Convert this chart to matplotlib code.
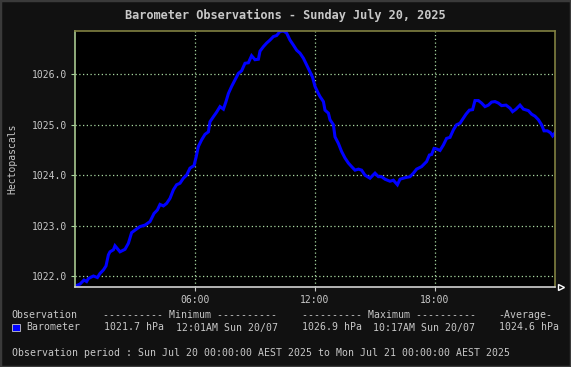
import matplotlib
matplotlib.use("Agg")
import matplotlib.pyplot as plt

# readings for Sun 20 Jul 2025, hours since midnight
hours = [0, 0.25, 0.45, 0.58, 0.67, 0.92, 1.12, 1.25, 1.42, 1.55, 1.67, 1.75, 1.92, 2.0,
         2.25, 2.5, 2.67, 2.83, 3.0, 3.25, 3.5, 3.75, 3.95, 4.12, 4.25, 4.42, 4.58, 4.75,
         4.92, 5.08, 5.25, 5.42, 5.58, 5.75, 5.95, 6.05, 6.17, 6.33, 6.5, 6.67, 6.75, 6.92,
         7.08, 7.25, 7.42, 7.55, 7.67, 7.83, 8.0, 8.17, 8.33, 8.5, 8.67, 8.83, 9.0, 9.17,
         9.25, 9.42, 9.58, 9.75, 9.92, 10.08, 10.25, 10.42, 10.58, 10.75, 10.92, 11.08,
         11.25, 11.42, 11.58, 11.75, 11.88, 12.0, 12.17, 12.25, 12.42, 12.5, 12.67, 12.75,
         12.92, 13.0, 13.17, 13.33, 13.5, 13.67, 13.83, 14.0, 14.17, 14.33, 14.5, 14.75,
         15.0, 15.17, 15.33, 15.5, 15.75, 15.92, 16.12, 16.25, 16.5, 16.75, 16.92, 17.08,
         17.33, 17.58, 17.72, 17.83, 17.95, 18.08, 18.25, 18.42, 18.58, 18.75, 18.92, 19.08,
         19.25, 19.42, 19.55, 19.72, 19.88, 20.0, 20.17, 20.33, 20.5, 20.67, 20.83, 21.0,
         21.17, 21.33, 21.55, 21.75, 21.88, 22.05, 22.25, 22.42, 22.67, 22.83, 23.0, 23.17,
         23.33, 23.45, 23.62, 23.78, 23.88, 24.0]
hpa = [1021.80, 1021.84, 1021.92, 1021.89, 1021.95, 1022.00, 1021.97, 1022.05, 1022.12,
       1022.20, 1022.42, 1022.48, 1022.52, 1022.60, 1022.48, 1022.53, 1022.65, 1022.86,
       1022.91, 1022.98, 1023.01, 1023.08, 1023.24, 1023.31, 1023.42, 1023.39, 1023.44,
       1023.54, 1023.71, 1023.81, 1023.84, 1023.94, 1024.00, 1024.14, 1024.19, 1024.35,
       1024.57, 1024.70, 1024.81, 1024.86, 1025.06, 1025.16, 1025.25, 1025.36, 1025.31,
       1025.46, 1025.62, 1025.76, 1025.89, 1026.02, 1026.07, 1026.22, 1026.23, 1026.37,
       1026.29, 1026.30, 1026.46, 1026.55, 1026.62, 1026.68, 1026.75, 1026.77, 1026.85,
       1026.86, 1026.82, 1026.68, 1026.58, 1026.48, 1026.42, 1026.32, 1026.19, 1026.05,
       1025.94, 1025.76, 1025.62, 1025.56, 1025.46, 1025.29, 1025.23, 1025.10, 1025.00,
       1024.76, 1024.63, 1024.47, 1024.34, 1024.24, 1024.17, 1024.10, 1024.12, 1024.10,
       1024.00, 1023.94, 1024.04, 1023.97, 1023.97, 1023.92, 1023.88, 1023.90, 1023.81,
       1023.92, 1023.95, 1023.97, 1024.04, 1024.12, 1024.17, 1024.27, 1024.40, 1024.41,
       1024.53, 1024.52, 1024.49, 1024.60, 1024.73, 1024.75, 1024.90, 1025.00, 1025.03,
       1025.13, 1025.21, 1025.29, 1025.30, 1025.48, 1025.48, 1025.43, 1025.36, 1025.39,
       1025.45, 1025.46, 1025.43, 1025.38, 1025.39, 1025.33, 1025.26, 1025.31, 1025.39,
       1025.31, 1025.28, 1025.21, 1025.17, 1025.10, 1025.00, 1024.88, 1024.88, 1024.84,
       1024.78, 1024.84]

xticks = [6, 12, 18]
xtick_labels = ["06:00", "12:00", "18:00"]
yticks = [1022.0, 1023.0, 1024.0, 1025.0, 1026.0]

title = "Barometer Observations - Sunday July 20, 2025"
header = ["Observation", "---------- Minimum ----------", "---------- Maximum ----------", "-Average-"]
row = ["Barometer", "1021.7 hPa", "12:01AM Sun 20/07", "1026.9 hPa", "10:17AM Sun 20/07", "1024.6 hPa"]
period = "Observation period : Sun Jul 20 00:00:00 AEST 2025 to Mon Jul 21 00:00:00 AEST 2025"

BG = "#111111"
TXT = "#c8c8c8"
GRID = "#a8d8a0"
FONT = "DejaVu Sans Mono"

W, H = 571, 367
fig = plt.figure(figsize=(W / 100, H / 100), dpi=100, facecolor=BG)
fig.patches.append(plt.Rectangle((0, 0), 1, 1, transform=fig.transFigure,
                                 fill=False, edgecolor="#3a3a3a", linewidth=2.5))

ax = fig.add_axes([75 / W, 1 - 287 / H, 480 / W, 256 / H], facecolor="black")
ax.plot(hours, hpa, color="#0000ff", linewidth=2.2, solid_joinstyle="miter")
ax.set_xlim(0, 24)
ax.set_ylim(1021.782, 1026.86)

ax.set_xticks(xticks)
ax.set_xticklabels(xtick_labels)
ax.set_yticks(yticks)
ax.set_yticklabels(["%.1f" % v for v in yticks])
ax.grid(True, color=GRID, linestyle=(0, (1, 2)), linewidth=0.9)
ax.tick_params(axis="both", colors=TXT, labelsize=7, length=3, width=0.8, pad=3)
ax.tick_params(axis="y", colors=GRID, labelcolor=TXT)
for lab in ax.get_xticklabels() + ax.get_yticklabels():
    lab.set_fontfamily(FONT)

ax.spines["top"].set_color("#808040")
ax.spines["right"].set_color("#808040")
ax.spines["left"].set_color("#a8c890")
ax.spines["bottom"].set_color("#d0d0d0")
for s in ax.spines.values():
    s.set_linewidth(1.2)

# open arrow head at the end of the time axis
ax.plot([1.013], [0], marker=">", markersize=5, markerfacecolor="none",
        markeredgecolor="#ffffff", markeredgewidth=1.0, transform=ax.transAxes, clip_on=False)

ax.set_ylabel("Hectopascals", color=TXT, fontsize=7, fontfamily=FONT, labelpad=10)

fig.text(285 / W, 1 - 15 / H, title, color=TXT, fontsize=8.6, fontweight="bold",
         fontfamily=FONT, ha="center", va="center")

fs = 7.1
y1 = 1 - 314.5 / H
y2 = 1 - 327.5 / H
y3 = 1 - 353.5 / H
for x, t in zip([11.7, 103, 301.5, 498], header):
    fig.text(x / W, y1, t, color=TXT, fontsize=fs, fontfamily=FONT, va="center")
fig.patches.append(plt.Rectangle((12 / W, y2 - 3.8 / H), 7.5 / W, 7.5 / H, transform=fig.transFigure,
                                 facecolor="#0000ff", edgecolor="#c8c8c8", linewidth=0.6))
for x, t in zip([26.2, 103.8, 175.5, 301.5, 373.3, 499], row):
    fig.text(x / W, y2, t, color=TXT, fontsize=fs, fontfamily=FONT, va="center")
fig.text(11.7 / W, y3, period, color=TXT, fontsize=fs, fontfamily=FONT, va="center")

fig.savefig("out.png", dpi=100, facecolor=BG)
